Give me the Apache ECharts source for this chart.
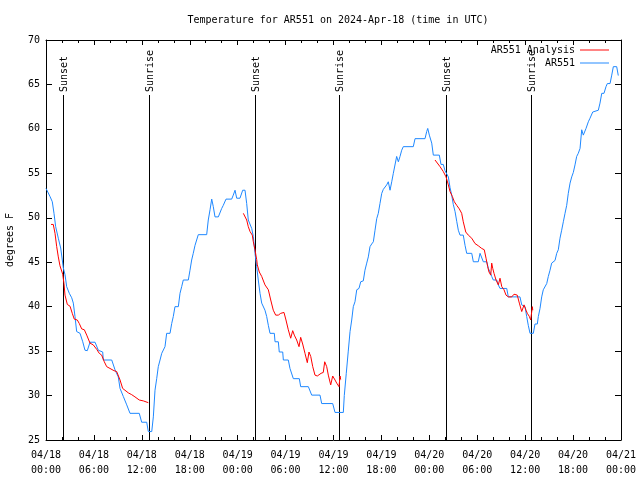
<!DOCTYPE html>
<html><head><meta charset="utf-8">
<script src="https://cdn.jsdelivr.net/npm/echarts@6/dist/echarts.min.js"></script>
<style>html,body{margin:0;padding:0;background:#fff}#c{width:640px;height:480px}</style>
</head><body><div id="c"></div>
<script>
const titleText = 'Temperature for AR551 on 2024-Apr-18 (time in UTC)';
const yAxisName = 'degrees F';
const xTickLabels = ['04/18\n00:00','04/18\n06:00','04/18\n12:00','04/18\n18:00','04/19\n00:00','04/19\n06:00','04/19\n12:00','04/19\n18:00','04/20\n00:00','04/20\n06:00','04/20\n12:00','04/20\n18:00','04/21\n00:00'];
const seriesNames = ['AR551 Analysis', 'AR551'];

// AR551 observations: hours since 2024-04-18 00:00 UTC, temperature (F)
const obsHours = [0.00,0.50,0.79,1.00,1.21,1.54,1.84,2.04,2.17,2.38,2.59,2.92,3.22,3.42,3.63,3.84,4.26,4.60,4.88,5.17,5.51,6.14,6.55,7.10,7.18,8.23,8.64,9.05,9.27,9.68,10.11,10.52,11.68,11.98,12.61,12.81,13.24,13.44,13.65,13.86,14.06,14.28,14.49,14.90,15.11,15.53,15.74,15.94,16.15,16.57,16.78,16.99,17.19,17.82,18.03,18.24,18.44,18.66,18.78,19.07,20.12,20.32,20.54,20.75,20.95,21.16,21.58,22.00,22.20,22.54,23.25,23.45,23.67,23.88,24.29,24.63,24.92,25.13,25.33,25.76,25.96,26.17,26.38,26.58,26.80,27.01,27.42,27.63,27.84,28.05,28.59,28.68,29.09,29.21,29.64,29.72,30.34,30.55,30.77,30.97,31.72,31.89,32.85,33.06,33.27,34.31,34.52,35.90,36.19,37.23,37.35,37.60,37.85,38.07,38.28,38.48,38.69,38.91,39.19,39.41,39.73,39.94,40.16,40.36,40.57,40.78,40.99,41.20,41.41,41.61,41.82,42.04,42.24,42.45,42.66,42.86,43.08,43.29,43.49,43.70,43.91,44.12,44.33,44.54,44.74,45.99,46.21,47.46,47.67,47.80,48.00,48.30,48.50,49.25,49.46,49.75,49.96,50.38,50.59,50.80,51.00,51.22,51.43,51.63,51.84,52.25,52.47,52.68,53.31,53.51,54.13,54.35,54.56,54.76,55.19,55.39,55.60,55.81,56.01,56.44,56.64,56.85,57.69,57.89,59.35,59.57,59.98,60.19,60.39,60.61,61.02,61.23,61.52,61.65,61.86,62.07,62.27,62.49,62.70,62.90,63.11,63.32,63.52,63.74,63.95,64.15,64.36,64.57,64.78,64.99,65.20,65.40,65.62,65.83,66.03,66.24,66.45,66.65,66.87,67.08,67.28,67.49,67.62,67.91,68.12,68.46,68.53,69.16,69.37,69.59,69.87,70.12,70.29,70.63,70.84,71.04,71.46,71.66];
const obsTemps = [53.3,52.4,51.8,50.5,49.0,47.7,46.6,45.25,44.35,43.6,42.25,41.5,41.0,40.4,38.9,37.2,37.0,36.05,35.1,35.05,36.0,36.0,35.1,34.9,34.0,34.0,32.9,32.1,30.8,29.9,28.95,28.0,28.0,27.0,27.0,25.95,25.95,27.6,30.6,31.9,33.25,34.0,34.75,35.5,37.0,37.0,38.1,38.9,40.0,40.0,41.5,42.25,43.0,43.0,44.1,45.25,46.0,46.9,47.0,48.1,48.1,49.75,50.9,52.1,51.25,50.1,50.1,51.05,51.4,52.1,52.1,52.55,53.1,52.2,52.2,53.1,53.1,51.6,49.75,48.8,47.9,46.0,44.5,43.0,41.5,40.4,39.6,38.9,37.9,37.0,37.0,36.05,36.05,34.9,34.9,34.0,34.0,33.05,33.0,31.9,31.9,31.0,31.0,30.9,30.05,30.05,29.1,29.1,28.1,28.1,30.0,32.5,35.0,37.2,38.5,40.0,40.55,41.9,42.05,42.8,42.9,44.1,44.9,45.6,46.75,47.05,47.3,48.6,49.9,50.5,51.6,52.75,53.2,53.2,53.7,54.05,53.1,54.05,55.0,55.0,56.9,56.3,56.9,57.6,58.0,58.0,58.9,58.9,59.7,60.05,59.3,58.4,57.05,57.05,56.0,56.0,55.3,54.6,53.4,52.55,51.5,50.7,49.6,48.6,48.05,48.05,46.9,46.0,46.0,45.05,45.05,46.0,45.9,45.05,45.05,44.3,43.9,43.4,43.0,43.0,42.45,42.05,42.05,41.1,41.1,40.2,40.0,38.9,37.9,37.0,37.0,38.05,38.05,38.9,39.8,41.1,41.9,42.05,42.6,43.4,44.1,44.9,45.05,45.2,46.0,46.4,47.7,48.6,49.55,50.5,51.4,52.75,53.9,54.6,55.1,55.95,56.9,57.25,57.8,59.9,59.3,59.2,60.05,60.8,61.2,61.9,62.1,62.1,62.9,64.0,64.0,64.75,65.1,65.1,66.05,67.0,67.0,66.0];

// AR551 Analysis (null = gap)
const anaHours = [0.63,0.91,1.13,1.34,1.54,1.75,1.97,2.09,2.25,2.38,2.67,3.01,3.29,3.54,3.92,4.17,4.47,4.80,5.10,5.51,5.92,6.35,6.67,6.97,7.30,7.60,8.01,8.51,8.85,9.27,9.60,9.89,10.31,10.73,11.14,11.68,12.18,12.81,
  18.0,
  24.71,24.92,25.13,25.33,25.55,25.83,25.96,26.17,26.38,26.46,26.71,27.01,27.42,27.84,28.14,28.46,28.76,29.09,29.39,29.80,30.05,30.34,30.64,30.89,31.09,31.39,31.68,31.89,32.14,32.43,32.72,32.93,33.15,33.40,33.68,33.97,34.44,34.72,34.90,35.15,35.35,35.65,35.90,36.19,36.40,36.69,36.82,36.90,
  42.0,
  48.71,49.34,49.75,50.09,50.38,50.59,50.88,51.13,51.43,51.75,52.05,52.25,52.56,52.88,53.31,53.72,54.13,54.56,54.88,55.10,55.31,55.47,55.69,55.81,55.94,56.10,56.35,56.64,56.85,57.07,57.35,57.60,57.89,58.32,58.60,58.85,59.01,59.27,59.57,59.77,59.86,60.11,60.27,60.52,60.69,60.90,60.95];
const anaTemps = [49.25,49.25,48.25,46.75,45.6,44.6,44.6,43.65,42.6,41.3,40.25,40.05,39.25,38.6,38.5,38.1,37.5,37.4,36.8,35.9,35.7,35.2,34.75,34.55,33.8,33.25,33.05,32.8,32.7,31.75,30.8,30.6,30.3,30.1,29.85,29.5,29.4,29.2,
  null,
  50.5,50.4,49.75,49.0,48.45,48.05,47.3,46.4,45.3,44.7,43.9,43.4,42.45,41.9,40.75,39.6,39.05,39.05,39.25,39.35,38.5,37.4,36.45,37.3,36.8,36.25,35.5,36.55,35.8,34.75,33.7,34.9,34.4,33.25,32.3,32.2,32.5,32.6,33.8,33.25,32.3,31.2,32.2,31.75,31.4,31.0,32.2,31.8,
  null,
  56.5,55.75,55.2,54.6,53.7,52.95,52.4,51.8,51.4,51.0,50.5,49.55,48.4,48.05,47.7,47.1,46.85,46.55,46.4,45.45,44.5,43.9,43.55,44.9,44.3,43.75,43.0,42.45,43.2,42.25,41.9,41.3,41.1,41.1,41.4,41.5,41.3,40.4,39.45,39.25,40.2,39.6,39.25,38.9,38.5,40.0,39.6];

const sunHours = [2.13, 12.90, 26.17, 36.69, 50.09, 60.73];
const sunLabels = ['Sunset','Sunrise','Sunset','Sunrise','Sunset','Sunrise'];

const X_MIN = 0, X_MAX = 72, X_STEP = 6;
const Y_MIN = 25, Y_MAX = 70, Y_STEP = 5;

const FONT = '"DejaVu Sans Mono", "Liberation Mono", monospace';
const txt = { color: '#000', fontFamily: FONT, fontSize: 10 };

const chart = echarts.init(document.getElementById('c'), null, { renderer: 'canvas' });

function xAxisCfg(pos, showLabels) {
  return {
    type: 'value', position: pos, min: X_MIN, max: X_MAX, interval: X_STEP,
    axisLine: { show: true, onZero: false, lineStyle: { color: '#000', width: 1 } },
    axisTick: { show: true, inside: true, length: 5, lineStyle: { color: '#000' } },
    minorTick: { show: true, splitNumber: 3, length: 3, lineStyle: { color: '#000' } },
    splitLine: { show: false },
    axisLabel: {
      show: showLabels, margin: 8, lineHeight: 15, ...txt,
      formatter: v => xTickLabels[Math.round((v - X_MIN) / X_STEP)] || ''
    }
  };
}
function yAxisCfg(pos, showLabels) {
  return {
    type: 'value', position: pos, min: Y_MIN, max: Y_MAX, interval: Y_STEP,
    name: showLabels ? yAxisName : '', nameLocation: 'middle', nameGap: 31, nameRotate: 90,
    nameTextStyle: { ...txt },
    axisLine: { show: true, onZero: false, lineStyle: { color: '#000', width: 1 } },
    axisTick: { show: true, inside: true, length: 6, lineStyle: { color: '#000' } },
    splitLine: { show: false },
    axisLabel: { show: showLabels, margin: 6, ...txt }
  };
}

const legendCommon = {
  orient: 'horizontal', align: 'right', right: 26, itemWidth: 29, itemHeight: 10,
  textStyle: { ...txt }, selectedMode: false, icon: 'path://M0,0 L30,0 L30,1 L0,1 Z'
};

chart.setOption({
  animation: false,
  backgroundColor: '#fff',
  title: {
    text: titleText, left: 333, top: 10, textAlign: 'center',
    textStyle: { ...txt, fontWeight: 'normal' }
  },
  legend: [
    { ...legendCommon, data: [seriesNames[0]], top: 40 },
    { ...legendCommon, data: [seriesNames[1]], top: 53 }
  ],
  grid: { left: 46, right: 19, top: 40, bottom: 40, containLabel: false, outerBoundsMode: 'none' },
  xAxis: [xAxisCfg('bottom', true), xAxisCfg('top', false)],
  yAxis: [yAxisCfg('left', true), yAxisCfg('right', false)],
  series: [
    {
      type: 'custom', name: 'sun', silent: true,
      data: sunHours.map((h, i) => [h, Y_MIN]),
      encode: { x: 0, y: 1 },
      renderItem: function (params, api) {
        const t = api.value(0);
        const b = api.coord([t, Y_MIN]);
        const tp = api.coord([t, Y_MAX]);
        const x = Math.round(b[0]) + 0.5;
        return {
          type: 'group', children: [
            { type: 'line', shape: { x1: x, y1: b[1], x2: x, y2: tp[1] + 55 }, style: { stroke: '#000', lineWidth: 1 } },
            { type: 'text', x: x + 1, y: tp[1] + 52, rotation: Math.PI / 2,
              style: { text: sunLabels[params.dataIndex], font: '10px ' + FONT, fill: '#000', align: 'left', verticalAlign: 'middle' } }
          ]
        };
      }
    },
    {
      type: 'line', name: seriesNames[1],
      data: obsHours.map((h, i) => [h, obsTemps[i]]),
      showSymbol: false, symbol: 'none',
      lineStyle: { color: '#1E88FF', width: 1 }, itemStyle: { color: '#1E88FF' },
      xAxisIndex: 0, yAxisIndex: 0
    },
    {
      type: 'line', name: seriesNames[0],
      data: anaHours.map((h, i) => [h, anaTemps[i]]),
      showSymbol: false, symbol: 'none', connectNulls: false,
      lineStyle: { color: '#FF0000', width: 1 }, itemStyle: { color: '#FF0000' },
      xAxisIndex: 0, yAxisIndex: 0
    }
  ]
});
</script>
</body></html>
